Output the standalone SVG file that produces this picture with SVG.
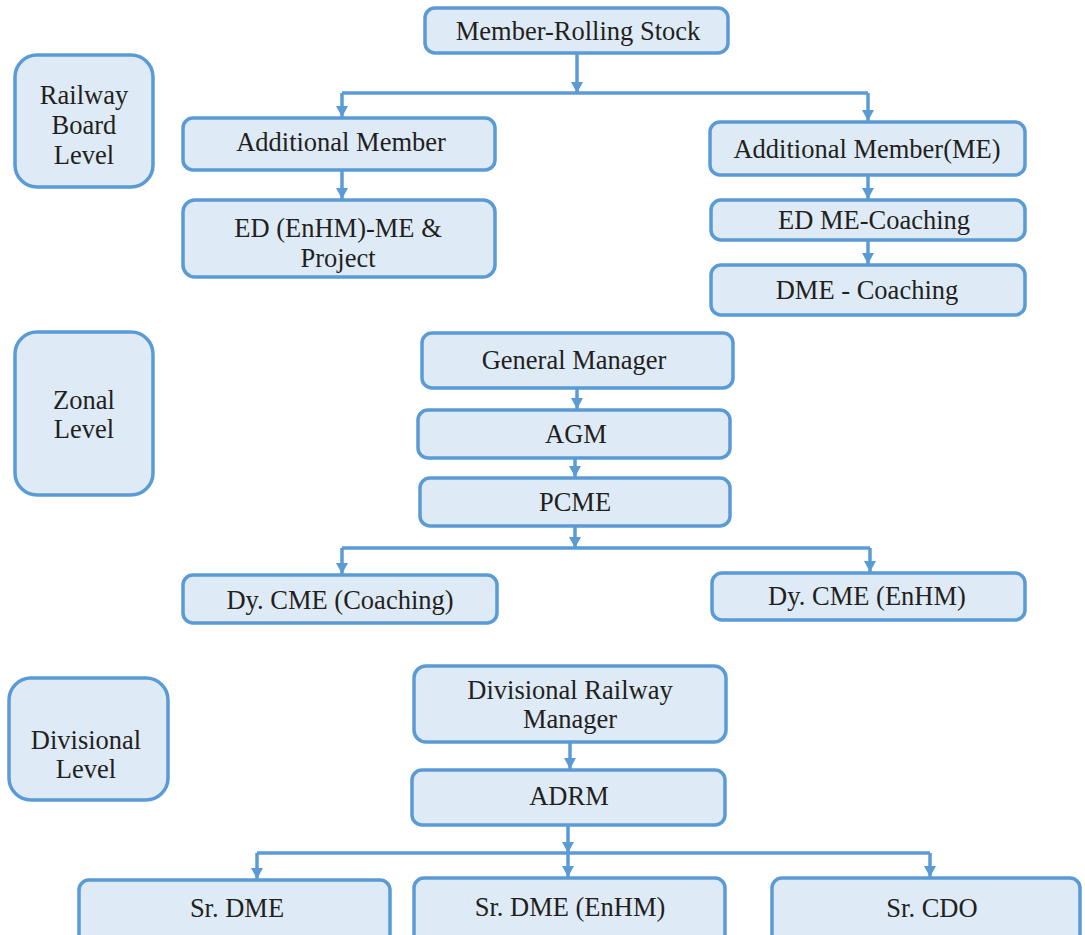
<svg xmlns="http://www.w3.org/2000/svg" width="1085" height="935" viewBox="0 0 1085 935">
<defs>
<style>
.box{fill:#deebf7;stroke:#5b9bd5;stroke-width:3.5}
.t{font-family:'Liberation Serif','Times New Roman',serif;font-size:26.5px;fill:#231f20;text-anchor:middle}
.c{fill:none;stroke:#5b9bd5;stroke-width:3.5}
</style>
</defs>
<rect width="1085" height="935" fill="#ffffff"/>
<g id="connectors">
<path class="c" d="M577 53 V93"/>
<path class="c" d="M342 93 H868"/>
<path class="c" d="M342 93 V117"/>
<path class="c" d="M868 93 V121"/>
<path class="c" d="M342 170 V199"/>
<path class="c" d="M868 175 V199"/>
<path class="c" d="M868 240 V264"/>
<path class="c" d="M577 388 V409"/>
<path class="c" d="M575 458 V477"/>
<path class="c" d="M575 526 V548"/>
<path class="c" d="M342 548 H870"/>
<path class="c" d="M342 548 V574"/>
<path class="c" d="M870 548 V572"/>
<path class="c" d="M570 742 V769"/>
<path class="c" d="M568 825 V877"/>
<path class="c" d="M257 853 H930"/>
<path class="c" d="M257 853 V879"/>
<path class="c" d="M930 853 V877"/>
<g fill="#5b9bd5">
<path d="M571 82 H583 L577 93 Z"/>
<path d="M336 106 H348 L342 117 Z"/>
<path d="M862 110 H874 L868 121 Z"/>
<path d="M336 188 H348 L342 199 Z"/>
<path d="M862 188 H874 L868 199 Z"/>
<path d="M862 253 H874 L868 264 Z"/>
<path d="M571 398 H583 L577 409 Z"/>
<path d="M569 466 H581 L575 477 Z"/>
<path d="M569 537 H581 L575 548 Z"/>
<path d="M336 563 H348 L342 574 Z"/>
<path d="M864 561 H876 L870 572 Z"/>
<path d="M564 758 H576 L570 769 Z"/>
<path d="M562 842 H574 L568 853 Z"/>
<path d="M562 866 H574 L568 877 Z"/>
<path d="M251 868 H263 L257 879 Z"/>
<path d="M924 866 H936 L930 877 Z"/>
</g>
</g>
<g id="n-member-rs"><rect class="box" x="425" y="8" width="303" height="45" rx="10"/><text class="t" x="578" y="40">Member-Rolling Stock</text></g>
<g id="n-rb-level"><rect class="box" x="15" y="55" width="138" height="132" rx="22"/><text class="t" x="84" y="104">Railway</text><text class="t" x="84" y="134">Board</text><text class="t" x="84" y="164">Level</text></g>
<g id="n-add-member"><rect class="box" x="183" y="118" width="312" height="52" rx="10"/><text class="t" x="341" y="151">Additional Member</text></g>
<g id="n-ed-enhm"><rect class="box" x="183" y="200" width="312" height="77" rx="12"/><text class="t" x="338" y="237">ED (EnHM)-ME &amp;</text><text class="t" x="338" y="267">Project</text></g>
<g id="n-add-member-me"><rect class="box" x="710" y="122" width="315" height="53" rx="10"/><text class="t" x="867" y="158">Additional Member(ME)</text></g>
<g id="n-ed-me-coaching"><rect class="box" x="711" y="200" width="314" height="40" rx="10"/><text class="t" x="874" y="229">ED ME-Coaching</text></g>
<g id="n-dme-coaching"><rect class="box" x="711" y="265" width="314" height="50" rx="10"/><text class="t" x="867" y="299">DME - Coaching</text></g>
<g id="n-zonal-level"><rect class="box" x="15" y="332" width="138" height="163" rx="22"/><text class="t" x="84" y="409">Zonal</text><text class="t" x="84" y="438">Level</text></g>
<g id="n-gm"><rect class="box" x="422" y="333" width="311" height="55" rx="10"/><text class="t" x="574" y="369">General Manager</text></g>
<g id="n-agm"><rect class="box" x="418" y="410" width="312" height="48" rx="10"/><text class="t" x="576" y="443">AGM</text></g>
<g id="n-pcme"><rect class="box" x="420" y="478" width="310" height="48" rx="10"/><text class="t" x="575" y="511">PCME</text></g>
<g id="n-dycme-coaching"><rect class="box" x="183" y="575" width="314" height="48" rx="10"/><text class="t" x="340" y="609">Dy. CME (Coaching)</text></g>
<g id="n-dycme-enhm"><rect class="box" x="712" y="573" width="313" height="47" rx="10"/><text class="t" x="867" y="605">Dy. CME (EnHM)</text></g>
<g id="n-div-level"><rect class="box" x="9" y="678" width="159" height="122" rx="22"/><text class="t" x="86" y="749">Divisional</text><text class="t" x="86" y="778">Level</text></g>
<g id="n-drm"><rect class="box" x="414" y="666" width="312" height="76" rx="12"/><text class="t" x="570" y="699">Divisional Railway</text><text class="t" x="570" y="728">Manager</text></g>
<g id="n-adrm"><rect class="box" x="412" y="770" width="313" height="55" rx="10"/><text class="t" x="569" y="805">ADRM</text></g>
<g id="n-sr-dme"><rect class="box" x="79" y="880" width="311" height="66" rx="10"/><text class="t" x="237" y="917">Sr. DME</text></g>
<g id="n-sr-dme-enhm"><rect class="box" x="414" y="878" width="311" height="68" rx="10"/><text class="t" x="570" y="916">Sr. DME (EnHM)</text></g>
<g id="n-sr-cdo"><rect class="box" x="772" y="878" width="308" height="68" rx="10"/><text class="t" x="932" y="917">Sr. CDO</text></g>
</svg>
